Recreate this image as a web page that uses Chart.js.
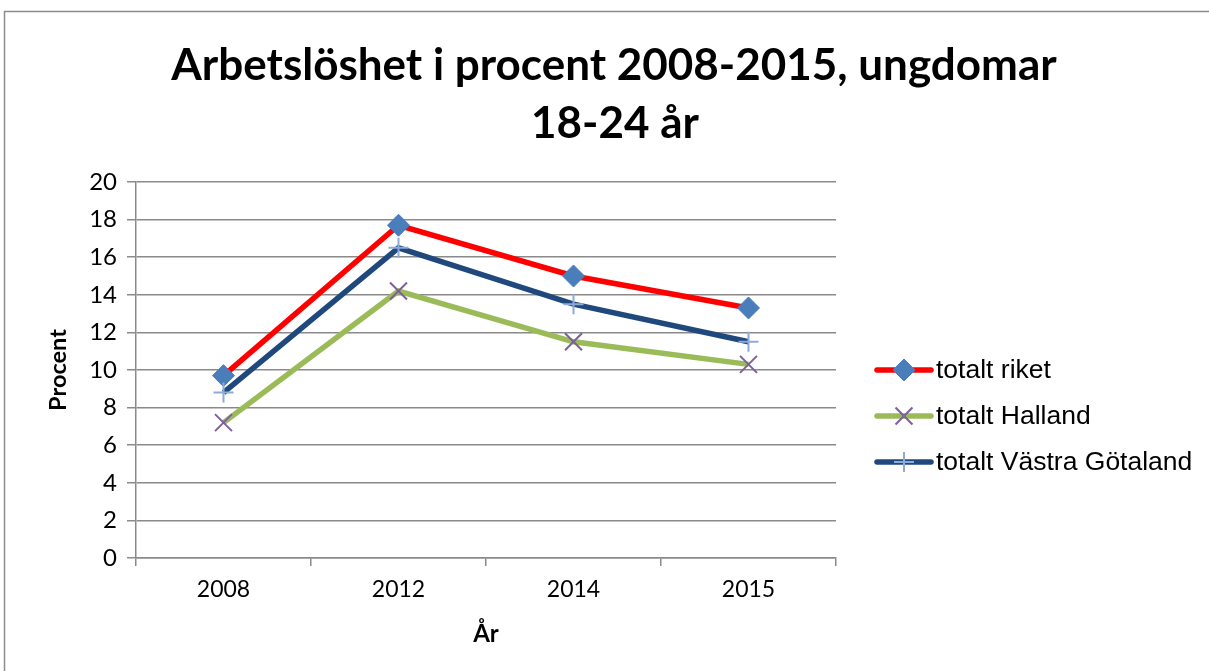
<!DOCTYPE html>
<html>
<head>
<meta charset="utf-8">
<script src="https://cdn.jsdelivr.net/npm/chart.js@4.4.1/dist/chart.umd.min.js"></script>
<style>
  html, body { margin: 0; padding: 0; background: #fff; }
  #wrap { width: 1209px; height: 671px; }
</style>
</head>
<body>
<div id="wrap"><canvas id="canvas" width="1209" height="671"></canvas></div>
<script>
// data
var years = ["2008", "2012", "2014", "2015"];
var riket = [9.7, 17.7, 15.0, 13.3];
var halland = [7.2, 14.2, 11.5, 10.3];
var vastraGotaland = [8.8, 16.5, 13.5, 11.5];
var seriesNames = ["totalt riket", "totalt Halland", "totalt Västra Götaland"];
var yTicks = [0, 2, 4, 6, 8, 10, 12, 14, 16, 18, 20];
var titleLines = ["Arbetslöshet i procent 2008-2015, ungdomar", "18-24 år"];

var gridColor = "#8a8a8a";
var font = "Lato, 'Open Sans', sans-serif";

// frame around the whole chart
var framePlugin = {
    id: "frame",
    beforeDraw: function (chart) {
        var c = chart.ctx;
        c.save();
        c.fillStyle = "#fff";
        c.fillRect(0, 0, chart.width, chart.height);
        c.strokeStyle = "#8c8c8c";
        c.lineWidth = 1.5;
        c.strokeRect(4.5, 11.5, chart.width + 20, chart.height + 20);
        c.restore();
    }
};

// title centred on the whole picture (not only the plot)
var titlePlugin = {
    id: "bigTitle",
    afterDraw: function (chart) {
        var c = chart.ctx;
        c.save();
        c.fillStyle = "#000";
        c.font = "bold 44px " + font;
        c.textAlign = "center";
        c.textBaseline = "middle";
        c.fillText(titleLines[0], 614, 66);
        c.fillText(titleLines[1], 615, 124);
        c.restore();
    }
};

// legend drawn as line + marker, like the original
var legendPlugin = {
    id: "lineLegend",
    afterDraw: function (chart) {
        var c = chart.ctx;
        var x0 = 877, x1 = 931, y0 = 370, step = 46;
        c.save();
        chart.data.datasets.forEach(function (ds, i) {
            var y = y0 + i * step;
            c.strokeStyle = ds.borderColor;
            c.lineWidth = 5.5;
            c.lineCap = "round";
            c.beginPath();
            c.moveTo(x0, y);
            c.lineTo(x1, y);
            c.stroke();
            c.lineCap = "butt";
            c.fillStyle = ds.pointBackgroundColor;
            c.strokeStyle = ds.pointBorderColor;
            c.lineWidth = ds.pointBorderWidth;
            Chart.helpers.drawPoint(c, {
                pointStyle: ds.pointStyle,
                radius: ds.pointRadius,
                borderWidth: ds.pointBorderWidth,
                rotation: 0
            }, (x0 + x1) / 2, y);
            c.fillStyle = "#000";
            c.font = "26.5px 'Liberation Sans', Arial, sans-serif";
            c.textBaseline = "middle";
            c.textAlign = "left";
            c.fillText(ds.label, 936, y + 1);
        });
        c.restore();
    }
};

var ctx = document.getElementById("canvas");
var myChart = new Chart(ctx, {
    type: "line",
    data: {
        labels: years,
        datasets: [
            {
                label: seriesNames[0],
                data: riket,
                borderColor: "#ff0000",
                borderWidth: 5.5,
                pointStyle: "rectRot",
                pointRadius: 11,
                pointBackgroundColor: "#4a7ebb",
                pointBorderColor: "#4a7ebb",
                pointBorderWidth: 1,
                order: 3
            },
            {
                label: seriesNames[1],
                data: halland,
                borderColor: "#9bbb59",
                borderWidth: 5.5,
                pointStyle: "crossRot",
                pointRadius: 12,
                pointBackgroundColor: "#7d5f9e",
                pointBorderColor: "#7d5f9e",
                pointBorderWidth: 2,
                order: 2
            },
            {
                label: seriesNames[2],
                data: vastraGotaland,
                borderColor: "#1f497d",
                borderWidth: 5.5,
                pointStyle: "cross",
                pointRadius: 10,
                pointBackgroundColor: "#8eaad8",
                pointBorderColor: "#8eaad8",
                pointBorderWidth: 2,
                order: 1
            }
        ]
    },
    options: {
        responsive: false,
        animation: false,
        layout: { padding: { left: 40, right: 373, top: 182, bottom: 18 } },
        plugins: {
            legend: { display: false },
            tooltip: { enabled: false },
            title: { display: false }
        },
        scales: {
            x: {
                offset: true,
                grid: {
                    offset: true,
                    drawOnChartArea: false,
                    color: gridColor,
                    lineWidth: 1.5,
                    tickLength: 8
                },
                border: { color: gridColor, width: 1.5 },
                ticks: { color: "#000", font: { family: font, size: 23 }, padding: 10 },
                title: {
                    display: true,
                    text: "År",
                    color: "#000",
                    font: { family: font, size: 24, weight: "bold" },
                    padding: { top: 6 }
                },
                afterFit: function (s) { s.height = 95; }
            },
            y: {
                min: 0,
                max: 20,
                afterBuildTicks: function (s) {
                    s.ticks = yTicks.map(function (v) { return { value: v }; });
                },
                grid: { color: gridColor, lineWidth: 1.5, tickLength: 9 },
                border: { color: gridColor, width: 1.5 },
                ticks: { color: "#000", font: { family: font, size: 24 }, padding: 10 },
                title: {
                    display: true,
                    text: "Procent",
                    color: "#000",
                    font: { family: font, size: 23.5, weight: "bold" },
                    padding: { bottom: 0 }
                },
                afterFit: function (s) { s.width = 96; }
            }
        }
    },
    plugins: [framePlugin, titlePlugin, legendPlugin]
});
</script>
</body>
</html>
